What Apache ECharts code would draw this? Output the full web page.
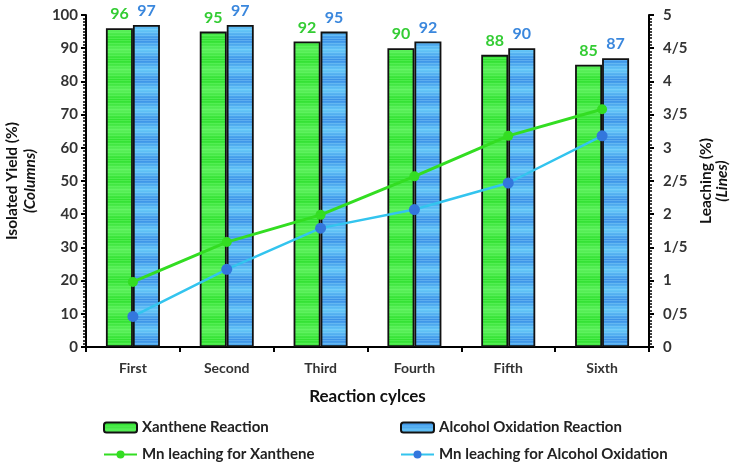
<!DOCTYPE html>
<html>
<head>
<meta charset="utf-8">
<script src="https://cdn.jsdelivr.net/npm/echarts@6/dist/echarts.min.js"></script>
<style>html,body{margin:0;padding:0;background:#fff;}#c{width:735px;height:466px;}</style>
</head>
<body>
<div id="c"></div>
<script>
var categories = ['First', 'Second', 'Third', 'Fourth', 'Fifth', 'Sixth'];
var xantheneYield = [96, 95, 92, 90, 88, 85];
var alcoholYield = [97, 97, 95, 92, 90, 87];
var xantheneLeach = [0.98, 1.58, 1.99, 2.57, 3.18, 3.58];
var alcoholLeach = [0.46, 1.17, 1.79, 2.07, 2.47, 3.18];
var leftTicks = [0, 10, 20, 30, 40, 50, 60, 70, 80, 90, 100];
var rightTickLabels = ['0', '0/5', '1', '1/5', '2', '2/5', '3', '3/5', '4', '4/5', '5'];

function makePattern(c1, c2, c3) {
  var cv = document.createElement('canvas');
  cv.width = 4; cv.height = 20;
  var ctx = cv.getContext('2d');
  var g = ctx.createLinearGradient(0, 0, 0, 20);
  g.addColorStop(0, c1);
  g.addColorStop(0.5, c2);
  g.addColorStop(1, c1);
  ctx.fillStyle = g;
  ctx.fillRect(0, 0, 4, 20);
  ctx.fillStyle = c3;
  for (var y = 0; y < 20; y += 3) { ctx.fillRect(0, y, 4, 1); }
  return cv;
}
var greenPat = makePattern('#2fe02f', '#5cf05c', 'rgba(120,255,120,0.35)');
var bluePat = makePattern('#3a8fe6', '#66c8f8', 'rgba(150,220,255,0.35)');

var FONT = 'Lato';
var chart = echarts.init(document.getElementById('c'));
var legendText = { fontFamily: FONT, fontSize: 15, fontWeight: 'bold', color: '#222' };
var nameStyle = { fontFamily: FONT, fontSize: 15.5, fontWeight: 'bold', color: '#111', lineHeight: 18,
  rich: { i: { fontFamily: FONT, fontSize: 15.5, fontWeight: 'bold', fontStyle: 'italic', color: '#111', lineHeight: 18 } } };

chart.setOption({
  animation: false,
  textStyle: { fontFamily: FONT },
  grid: { left: 86, right: 86, top: 15, bottom: 119, outerBoundsMode: 'none', containLabel: false },
  legend: [
    { left: 98, top: 415, itemWidth: 33, itemHeight: 10, textStyle: legendText, data: ['Xanthene Reaction'] },
    { left: 395, top: 415, itemWidth: 33, itemHeight: 10, textStyle: legendText, data: ['Alcohol Oxidation Reaction'] },
    { left: 98, top: 442, itemWidth: 33, itemHeight: 10, textStyle: legendText, data: ['Mn leaching for Xanthene'] },
    { left: 395, top: 442, itemWidth: 33, itemHeight: 10, textStyle: legendText, data: ['Mn leaching for Alcohol Oxidation'] }
  ],
  xAxis: {
    type: 'category',
    data: categories,
    name: 'Reaction cylces',
    nameLocation: 'middle',
    nameGap: 41,
    nameTextStyle: { fontFamily: FONT, fontSize: 17, fontWeight: 'bold', color: '#111' },
    axisLine: { lineStyle: { color: '#000', width: 2 } },
    axisTick: { show: true, length: 5, lineStyle: { color: '#000', width: 2 } },
    axisLabel: { fontFamily: FONT, fontSize: 14, fontWeight: 'bold', color: '#333', margin: 14 },
    splitLine: { show: false }
  },
  yAxis: [
    {
      type: 'value', min: 0, max: 100, interval: 10,
      name: 'Isolated Yield (%)\n{i|(Columns)}',
      nameLocation: 'middle', nameRotate: 90, nameGap: 47,
      nameTextStyle: nameStyle,
      axisLine: { show: true, lineStyle: { color: '#000', width: 2 } },
      axisTick: { show: true, length: 5, lineStyle: { color: '#000', width: 2 } },
      minorTick: { show: true, splitNumber: 10, length: 3, lineStyle: { color: '#000', width: 1.5 } },
      axisLabel: { fontFamily: FONT, fontSize: 15, fontWeight: 'bold', color: '#333', margin: 8 },
      splitLine: { show: false }
    },
    {
      type: 'value', min: 0, max: 5, interval: 0.5,
      name: 'Leaching (%)\n{i|(Lines)}',
      nameLocation: 'middle', nameRotate: 90, nameGap: 44,
      nameTextStyle: { fontFamily: FONT, fontSize: 15.5, fontWeight: 'bold', color: '#111', lineHeight: 16,
        rich: { i: { fontFamily: FONT, fontSize: 15.5, fontWeight: 'bold', fontStyle: 'italic', color: '#111', lineHeight: 16 } } },
      axisLine: { show: true, lineStyle: { color: '#000', width: 2 } },
      axisTick: { show: true, length: 5, lineStyle: { color: '#000', width: 2 } },
      minorTick: { show: true, splitNumber: 10, length: 3, lineStyle: { color: '#000', width: 1.5 } },
      axisLabel: { fontFamily: FONT, fontSize: 15, fontWeight: 'bold', color: '#333', margin: 14,
        formatter: function (v) { return rightTickLabels[Math.round(v * 2)]; } },
      splitLine: { show: false }
    }
  ],
  series: [
    {
      name: 'Xanthene Reaction', type: 'bar', data: xantheneYield, barWidth: 27, barGap: '0%',
      itemStyle: { color: { image: greenPat, repeat: 'repeat' }, borderColor: '#111', borderWidth: 1.8 },
      label: { show: true, position: 'top', distance: 6, fontFamily: FONT, fontSize: 16, fontWeight: 'bold', color: '#33cc33' }
    },
    {
      name: 'Alcohol Oxidation Reaction', type: 'bar', data: alcoholYield, barWidth: 27, barGap: '0%',
      itemStyle: { color: { image: bluePat, repeat: 'repeat' }, borderColor: '#111', borderWidth: 1.8 },
      label: { show: true, position: 'top', distance: 6, fontFamily: FONT, fontSize: 16, fontWeight: 'bold', color: '#3a87dd' }
    },
    {
      name: 'Mn leaching for Xanthene', type: 'line', yAxisIndex: 1, data: xantheneLeach,
      symbol: 'circle', symbolSize: 10,
      lineStyle: { color: '#33dd22', width: 3 },
      itemStyle: { color: '#33dd22' }
    },
    {
      name: 'Mn leaching for Alcohol Oxidation', type: 'line', yAxisIndex: 1, data: alcoholLeach,
      symbol: 'circle', symbolSize: 11,
      lineStyle: { color: '#33c4ee', width: 2.5 },
      itemStyle: { color: '#3377dd' }
    }
  ]
});
</script>
</body>
</html>
